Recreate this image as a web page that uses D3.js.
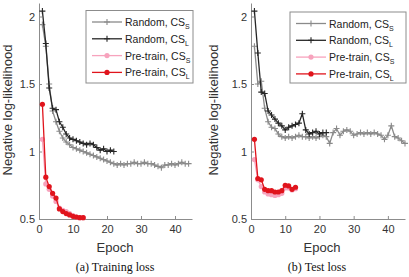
<!DOCTYPE html>
<html>
<head>
<meta charset="utf-8">
<script src="https://cdn.jsdelivr.net/npm/d3@7"></script>
<style>
  body { margin: 0; background: #fff; }
  .axis text { font-family: "Liberation Sans", Arial, sans-serif; font-size: 11px; fill: #333; }
  .axis path, .axis line { stroke: #8c8c8c; }
</style>
</head>
<body>
<div id="chart"></div>
<script>
// tick labels
const epochTicks = [0, 10, 20, 30, 40];
const nllTicks = [0.5, 1, 1.5, 2];

// legend labels (main text + subscript)
const legendMain = ["Random, CS", "Random, CS", "Pre-train, CS", "Pre-train, CS"];
const legendSub = ["S", "L", "S", "L"];

// (a) training loss, one value per epoch starting at epoch 1
const trainRandomS = [1.94, 1.78, 1.50, 1.30, 1.22, 1.15, 1.10, 1.07, 1.05, 1.03, 1.02, 1.01, 1.00, 0.99, 0.98,
  0.97, 0.96, 0.95, 0.94, 0.93, 0.92, 0.91, 0.90, 0.91, 0.90, 0.91, 0.91, 0.92, 0.91, 0.91,
  0.92, 0.91, 0.91, 0.90, 0.89, 0.88, 0.90, 0.90, 0.91, 0.90, 0.91, 0.92, 0.91, 0.91];
const trainRandomL = [2.04, 1.80, 1.47, 1.32, 1.31, 1.22, 1.18, 1.13, 1.10, 1.09, 1.08, 1.07, 1.06, 1.05, 1.06,
  1.05, 1.03, 1.01, 1.02, 1.00, 1.01, 1.00];
const trainPreS = [1.09, 0.76, 0.72, 0.67, 0.63, 0.58, 0.565, 0.555, 0.54, 0.525, 0.515, 0.51, 0.51];
const trainPreL = [1.35, 0.81, 0.74, 0.69, 0.655, 0.575, 0.555, 0.54, 0.53, 0.52, 0.515, 0.51, 0.51];

// (b) test loss
const testRandomS = [1.78, 1.50, 1.52, 1.32, 1.22, 1.18, 1.17, 1.13, 1.11, 1.10, 1.11, 1.10, 1.11, 1.12, 1.11,
  1.11, 1.10, 1.11, 1.10, 1.11, 1.12, 1.11, 1.06, 1.14, 1.17, 1.12, 1.15, 1.16, 1.15, 1.12,
  1.13, 1.14, 1.13, 1.14, 1.13, 1.14, 1.13, 1.12, 1.09, 1.12, 1.19, 1.11, 1.10, 1.08, 1.06];
const testRandomL = [2.04, 1.73, 1.44, 1.43, 1.30, 1.27, 1.24, 1.21, 1.19, 1.16, 1.18, 1.19, 1.20, 1.21, 1.28,
  1.16, 1.13, 1.14, 1.15, 1.13, 1.14, 1.14];
const testPreS = [0.94, 0.79, 0.74, 0.70, 0.685, 0.68, 0.675, 0.68, 0.69, 0.73, 0.73, 0.715, 0.725];
const testPreL = [1.09, 0.80, 0.79, 0.72, 0.71, 0.71, 0.70, 0.70, 0.71, 0.75, 0.745, 0.72, 0.735];

const colors = ["#8a8a8a", "#262626", "#f7a3bd", "#e0141c"];
const markers = ["plus", "plus", "dot", "dot"];

const svg = d3.select("#chart").append("svg")
  .attr("width", 409)
  .attr("height", 277);

// one panel of the figure
function drawPanel(p) {
  let x = d3.scaleLinear().domain([0, 45]).range([p.left, p.right]);
  let y = d3.scaleLinear().domain([0.5, 2.1]).range([219, 3]);

  let g = svg.append("g");

  g.append("g")
    .attr("class", "axis")
    .attr("transform", "translate(0,219)")
    .call(d3.axisBottom(x).tickValues(epochTicks).tickSize(-3).tickSizeOuter(0).tickPadding(6));

  g.append("g")
    .attr("class", "axis")
    .attr("transform", `translate(${p.left},0)`)
    .call(d3.axisLeft(y).tickValues(nllTicks).tickFormat(d3.format("")).tickSize(-3).tickSizeOuter(0).tickPadding(4));

  let line = d3.line()
    .x((d, i) => x(i + 1))
    .y(d => y(d));

  p.series.forEach((vals, k) => {
    let s = g.append("g");
    s.append("path")
      .datum(vals)
      .attr("d", line)
      .attr("fill", "none")
      .attr("stroke", colors[k])
      .attr("stroke-width", 1.3);
    drawMarkers(s, vals.map((v, i) => [x(i + 1), y(v)]), k);
  });

  // axis labels
  g.append("text")
    .attr("transform", `translate(${p.ylabX},110) rotate(-90)`)
    .attr("text-anchor", "middle")
    .style("font-family", "Liberation Sans, Arial, sans-serif")
    .style("font-size", "13px")
    .attr("fill", "#333")
    .text("Negative log-likelihood");

  g.append("text")
    .attr("x", p.xlabX)
    .attr("y", 252)
    .attr("text-anchor", "middle")
    .style("font-family", "Liberation Sans, Arial, sans-serif")
    .style("font-size", "13px")
    .attr("fill", "#333")
    .text("Epoch");

  g.append("text")
    .attr("x", p.capX)
    .attr("y", 271)
    .attr("text-anchor", "middle")
    .style("font-family", "Liberation Serif, Times New Roman, serif")
    .style("font-size", "12px")
    .attr("fill", "#111")
    .text(p.caption);

  // legend
  let lg = g.append("g");
  lg.append("rect")
    .attr("x", p.leg.x)
    .attr("y", p.leg.y)
    .attr("width", p.leg.w)
    .attr("height", p.leg.h)
    .attr("fill", "#fff")
    .attr("stroke", "#8c8c8c")
    .attr("stroke-width", 1);

  legendMain.forEach((txt, k) => {
    let ry = p.leg.y + 11.5 + k * 16.8;
    let lx = p.leg.x + 6;
    lg.append("line")
      .attr("x1", lx).attr("x2", lx + 30)
      .attr("y1", ry).attr("y2", ry)
      .attr("stroke", colors[k])
      .attr("stroke-width", 1.3);
    drawMarkers(lg, [[lx + 15, ry]], k);
    let t = lg.append("text")
      .attr("x", lx + 33)
      .attr("y", ry + 4)
      .style("font-family", "Liberation Sans, Arial, sans-serif")
      .style("font-size", "10.5px")
      .attr("fill", "#222");
    t.append("tspan").text(txt);
    t.append("tspan")
      .attr("dy", 3)
      .style("font-size", "7px")
      .text(legendSub[k]);
  });
}

function drawMarkers(sel, pts, k) {
  if (markers[k] == "plus") {
    sel.selectAll(null)
      .data(pts)
      .enter()
      .append("path")
        .attr("d", d => `M${d[0] - 3},${d[1]}h6M${d[0]},${d[1] - 3}v6`)
        .attr("stroke", colors[k])
        .attr("stroke-width", 1.1)
        .attr("fill", "none");
  } else {
    sel.selectAll(null)
      .data(pts)
      .enter()
      .append("circle")
        .attr("cx", d => d[0])
        .attr("cy", d => d[1])
        .attr("r", 2.6)
        .attr("fill", colors[k]);
  }
}

drawPanel({
  left: 39, right: 192,
  series: [trainRandomS, trainRandomL, trainPreS, trainPreL],
  ylabX: 12, xlabX: 115, capX: 115,
  caption: "(a) Training loss",
  leg: { x: 86, y: 10.5, w: 107, h: 72.5 }
});

drawPanel({
  left: 251, right: 405,
  series: [testRandomS, testRandomL, testPreS, testPreL],
  ylabX: 218, xlabX: 322, capX: 317,
  caption: "(b) Test loss",
  leg: { x: 290, y: 12, w: 116, h: 71 }
});
</script>
</body>
</html>
